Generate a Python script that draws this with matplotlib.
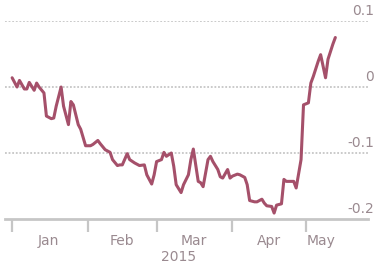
import pandas as pd
import matplotlib.pyplot as plt
import matplotlib.dates as mdates
import matplotlib.transforms as mtransforms

dates = [
    "2015-01-01", "2015-01-03", "2015-01-04", "2015-01-06", "2015-01-07",
    "2015-01-08", "2015-01-10", "2015-01-11", "2015-01-12", "2015-01-14",
    "2015-01-15", "2015-01-17", "2015-01-18", "2015-01-19", "2015-01-21",
    "2015-01-22", "2015-01-24", "2015-01-25", "2015-01-26", "2015-01-28",
    "2015-01-29", "2015-01-31", "2015-02-02", "2015-02-03", "2015-02-05",
    "2015-02-06", "2015-02-08", "2015-02-10", "2015-02-11", "2015-02-13",
    "2015-02-14", "2015-02-15", "2015-02-17", "2015-02-18", "2015-02-20",
    "2015-02-22", "2015-02-24", "2015-02-25", "2015-02-27", "2015-02-28",
    "2015-03-01", "2015-03-03", "2015-03-04", "2015-03-05", "2015-03-07",
    "2015-03-08", "2015-03-09", "2015-03-11", "2015-03-12", "2015-03-14",
    "2015-03-15", "2015-03-16", "2015-03-18", "2015-03-19", "2015-03-20",
    "2015-03-22", "2015-03-23", "2015-03-24", "2015-03-26", "2015-03-27",
    "2015-03-28", "2015-03-30", "2015-03-31", "2015-04-01", "2015-04-03",
    "2015-04-04", "2015-04-06", "2015-04-07", "2015-04-08", "2015-04-10",
    "2015-04-11", "2015-04-13", "2015-04-14", "2015-04-15", "2015-04-17",
    "2015-04-18", "2015-04-19", "2015-04-21", "2015-04-22", "2015-04-23",
    "2015-04-25", "2015-04-26", "2015-04-27", "2015-04-29", "2015-04-30",
    "2015-05-02", "2015-05-03", "2015-05-04", "2015-05-06", "2015-05-07",
    "2015-05-09", "2015-05-10", "2015-05-12", "2015-05-13",
]
values = [
    0.014, 0.000, 0.010, -0.003, -0.003,
    0.007, -0.005, 0.006, 0.000, -0.009,
    -0.044, -0.048, -0.047, -0.029, 0.000,
    -0.029, -0.057, -0.022, -0.027, -0.057,
    -0.064, -0.089, -0.089, -0.087, -0.081,
    -0.086, -0.095, -0.099, -0.110, -0.119,
    -0.118, -0.118, -0.101, -0.110, -0.115,
    -0.119, -0.118, -0.133, -0.147, -0.133,
    -0.113, -0.110, -0.099, -0.105, -0.100,
    -0.120, -0.148, -0.160, -0.148, -0.133,
    -0.110, -0.094, -0.143, -0.145, -0.151,
    -0.110, -0.105, -0.113, -0.125, -0.136,
    -0.138, -0.125, -0.138, -0.135, -0.132,
    -0.133, -0.137, -0.148, -0.172, -0.174,
    -0.174, -0.170, -0.176, -0.180, -0.181,
    -0.191, -0.179, -0.177, -0.140, -0.143,
    -0.143, -0.143, -0.153, -0.110, -0.027,
    -0.024, 0.006, 0.016, 0.039, 0.049,
    0.014, 0.042, 0.065, 0.075,
]
month_ticks = ["2015-01-01", "2015-02-01", "2015-03-01", "2015-04-01", "2015-05-01"]
month_labels = ["Jan", "Feb", "Mar", "Apr", "May"]
label_pos = ["2015-01-16", "2015-02-15", "2015-03-16", "2015-04-16", "2015-05-07"]
year_label = "2015"
year_pos = "2015-03-10"
y_ticks = [0.1, 0, -0.1, -0.2]
y_labels = ["0.1", "0", "-0.1", "-0.2"]

x = pd.to_datetime(dates)
text_col = "#9a8a90"
grey = "#c6c6c6"

fig = plt.figure(figsize=(3.78, 2.66), dpi=100)
ax = fig.add_axes([0.0132, 0.1767, 0.9603, 0.7443])

for yv in y_ticks[:-1]:
    ax.axhline(yv, color=grey, lw=1.3, ls=(0, (1, 1)), zorder=1)
ax.plot(x, values, color="#a5506a", lw=2.2, zorder=3,
        solid_joinstyle="round", solid_capstyle="round")

ax.set_xlim(pd.Timestamp("2014-12-29 02:00"), pd.Timestamp("2015-05-26 08:00"))
ax.set_ylim(-0.2, 0.1)

for s in ["top", "left", "right"]:
    ax.spines[s].set_visible(False)
ax.spines["bottom"].set_color(grey)
ax.spines["bottom"].set_linewidth(2)
ax.set_yticks([])

ax.set_xticks(pd.to_datetime(month_ticks))
ax.tick_params(axis="x", length=9, width=1.6, color=grey, labelbottom=False)

# month labels sit between the ticks, year under March
mtrans = mtransforms.offset_copy(ax.transData, fig=fig, x=0, y=-22, units="dots")
for lp, lab in zip(pd.to_datetime(label_pos), month_labels):
    ax.text(mdates.date2num(lp), -0.2, lab, transform=mtrans,
            ha="center", va="center", fontsize=10, color=text_col)
ytr = mtransforms.offset_copy(ax.transData, fig=fig, x=0, y=-38, units="dots")
ax.text(mdates.date2num(pd.Timestamp(year_pos)), -0.2, year_label, transform=ytr,
        ha="center", va="center", fontsize=10, color=text_col)

# value labels on the right, just above each gridline
vtrans = mtransforms.offset_copy(
    mtransforms.blended_transform_factory(fig.transFigure, ax.transData),
    fig=fig, x=0, y=10, units="dots")
for yv, lab in zip(y_ticks, y_labels):
    ax.text(374 / 378, yv, lab, transform=vtrans, ha="right", va="center",
            fontsize=10, color=text_col)

fig.savefig("out.png", dpi=100)
